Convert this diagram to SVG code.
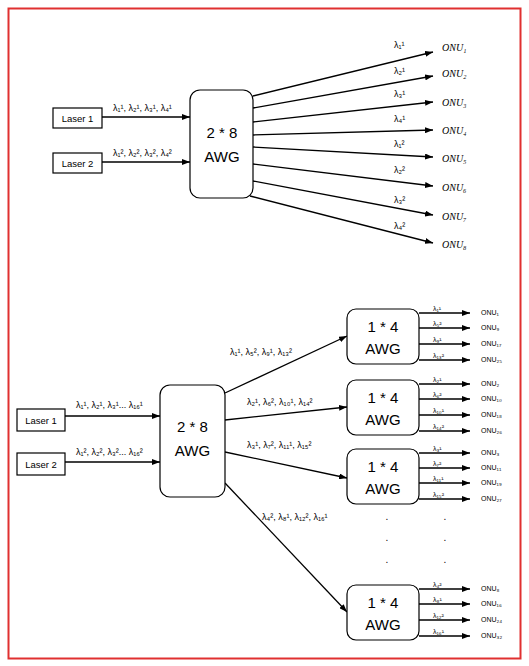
<svg xmlns="http://www.w3.org/2000/svg" width="529" height="666" viewBox="0 0 529 666">
<style>
.box{fill:#fff;stroke:#000;stroke-width:1.2}
.awg{fill:#fff;stroke:#000;stroke-width:1.2}
.ln{fill:none;stroke:#000;stroke-width:1.3}
.lab{font-family:"Liberation Sans","DejaVu Sans",sans-serif;font-size:9px;fill:#000}
.las{font-family:"Liberation Sans","DejaVu Sans",sans-serif;font-size:9.5px;fill:#000;text-anchor:middle}
.big{font-family:"Liberation Sans","DejaVu Sans",sans-serif;font-size:15px;fill:#000;text-anchor:middle}
.onu{font-family:"Liberation Serif","DejaVu Serif",serif;font-style:italic;font-size:10px;fill:#000}
.tiny{font-family:"Liberation Sans","DejaVu Sans",sans-serif;font-size:7px;fill:#000}
.onus{font-family:"Liberation Sans","DejaVu Sans",sans-serif;font-size:7px;fill:#000}
.dot{font-family:"Liberation Sans",sans-serif;font-size:10px;fill:#000;text-anchor:middle}
</style>
<defs>
<marker id="ah" markerUnits="userSpaceOnUse" markerWidth="8" markerHeight="6" refX="8" refY="3" orient="auto"><path d="M0,0 L8,3 L0,6 z" fill="#000"/></marker>
</defs>
<rect width="529" height="666" fill="#fff"/>
<rect x="8.5" y="8.5" width="512" height="650" fill="none" stroke="#e03030" stroke-width="2"/>

<g id="connectors">
<!-- top -->
<line class="ln" x1="102" y1="117" x2="190" y2="117" marker-end="url(#ah)"/>
<line class="ln" x1="102" y1="162" x2="190" y2="162" marker-end="url(#ah)"/>
<line class="ln" x1="253" y1="96" x2="433" y2="52" marker-end="url(#ah)"/>
<line class="ln" x1="253" y1="108" x2="433" y2="76" marker-end="url(#ah)"/>
<line class="ln" x1="253" y1="122" x2="433" y2="102" marker-end="url(#ah)"/>
<line class="ln" x1="253" y1="135" x2="433" y2="130" marker-end="url(#ah)"/>
<line class="ln" x1="253" y1="147" x2="433" y2="157" marker-end="url(#ah)"/>
<line class="ln" x1="253" y1="164" x2="433" y2="186" marker-end="url(#ah)"/>
<line class="ln" x1="253" y1="181" x2="433" y2="215" marker-end="url(#ah)"/>
<line class="ln" x1="250" y1="196" x2="433" y2="243" marker-end="url(#ah)"/>
<!-- bottom -->
<line class="ln" x1="65" y1="416" x2="160" y2="416" marker-end="url(#ah)"/>
<line class="ln" x1="65" y1="462" x2="160" y2="462" marker-end="url(#ah)"/>
<line class="ln" x1="225" y1="393" x2="347" y2="336" marker-end="url(#ah)"/>
<line class="ln" x1="225" y1="420" x2="347" y2="407" marker-end="url(#ah)"/>
<line class="ln" x1="225" y1="452" x2="347" y2="478" marker-end="url(#ah)"/>
<line class="ln" x1="225" y1="483" x2="347" y2="612" marker-end="url(#ah)"/>
<!-- sub AWG outputs -->
<g id="out1">
<line class="ln" x1="419" y1="313" x2="470" y2="313" marker-end="url(#ah)"/>
<line class="ln" x1="419" y1="328" x2="470" y2="328" marker-end="url(#ah)"/>
<line class="ln" x1="419" y1="344" x2="470" y2="344" marker-end="url(#ah)"/>
<line class="ln" x1="419" y1="360" x2="470" y2="360" marker-end="url(#ah)"/>
</g>
<g id="out2">
<line class="ln" x1="419" y1="384" x2="470" y2="384" marker-end="url(#ah)"/>
<line class="ln" x1="419" y1="399" x2="470" y2="399" marker-end="url(#ah)"/>
<line class="ln" x1="419" y1="415" x2="470" y2="415" marker-end="url(#ah)"/>
<line class="ln" x1="419" y1="431" x2="470" y2="431" marker-end="url(#ah)"/>
</g>
<g id="out3">
<line class="ln" x1="419" y1="453" x2="470" y2="453" marker-end="url(#ah)"/>
<line class="ln" x1="419" y1="468" x2="470" y2="468" marker-end="url(#ah)"/>
<line class="ln" x1="419" y1="483" x2="470" y2="483" marker-end="url(#ah)"/>
<line class="ln" x1="419" y1="499" x2="470" y2="499" marker-end="url(#ah)"/>
</g>
<g id="out4">
<line class="ln" x1="419" y1="589" x2="470" y2="589" marker-end="url(#ah)"/>
<line class="ln" x1="419" y1="604" x2="470" y2="604" marker-end="url(#ah)"/>
<line class="ln" x1="419" y1="620" x2="470" y2="620" marker-end="url(#ah)"/>
<line class="ln" x1="419" y1="636" x2="470" y2="636" marker-end="url(#ah)"/>
</g>
</g>

<!-- top nodes -->
<g id="t-laser1"><rect class="box" x="53" y="108" width="49" height="20"/><text class="las" x="77.5" y="121.5">Laser 1</text></g>
<g id="t-laser2"><rect class="box" x="53" y="153" width="49" height="20"/><text class="las" x="77.5" y="166.5">Laser 2</text></g>
<g id="t-awg"><rect class="awg" x="190" y="90" width="63" height="108" rx="10"/><text class="big" x="222" y="138">2 * 8</text><text class="big" x="222" y="162">AWG</text></g>

<g id="top-labels">
<text class="lab" x="113" y="111">λ₁¹, λ₂¹, λ₃¹, λ₄¹</text>
<text class="lab" x="113" y="156">λ₁², λ₂², λ₃², λ₄²</text>
<text class="lab" x="394" y="48">λ₁¹</text>
<text class="lab" x="394" y="74">λ₂¹</text>
<text class="lab" x="394" y="97">λ₃¹</text>
<text class="lab" x="394" y="122">λ₄¹</text>
<text class="lab" x="394" y="147">λ₁²</text>
<text class="lab" x="394" y="173">λ₂²</text>
<text class="lab" x="394" y="203">λ₃²</text>
<text class="lab" x="394" y="229">λ₄²</text>
</g>
<g id="top-onus">
<text class="onu" x="442" y="51">ONU₁</text>
<text class="onu" x="442" y="77">ONU₂</text>
<text class="onu" x="442" y="106">ONU₃</text>
<text class="onu" x="442" y="134">ONU₄</text>
<text class="onu" x="442" y="162">ONU₅</text>
<text class="onu" x="442" y="191">ONU₆</text>
<text class="onu" x="442" y="220">ONU₇</text>
<text class="onu" x="442" y="248">ONU₈</text>
</g>

<!-- bottom nodes -->
<g id="b-laser1"><rect class="box" x="17" y="409" width="48" height="22"/><text class="las" x="41" y="423.5">Laser 1</text></g>
<g id="b-laser2"><rect class="box" x="17" y="453" width="48" height="22"/><text class="las" x="41" y="467.5">Laser 2</text></g>
<g id="b-awg"><rect class="awg" x="160" y="385" width="65" height="112" rx="10"/><text class="big" x="192.5" y="432">2 * 8</text><text class="big" x="192.5" y="456">AWG</text></g>
<g id="s-awg1"><rect class="awg" x="347" y="309" width="72" height="55" rx="9"/><text class="big" x="383" y="332">1 * 4</text><text class="big" x="383" y="354">AWG</text></g>
<g id="s-awg2"><rect class="awg" x="347" y="380" width="72" height="55" rx="9"/><text class="big" x="383" y="403">1 * 4</text><text class="big" x="383" y="425">AWG</text></g>
<g id="s-awg3"><rect class="awg" x="347" y="449" width="72" height="55" rx="9"/><text class="big" x="383" y="472">1 * 4</text><text class="big" x="383" y="494">AWG</text></g>
<g id="s-awg4"><rect class="awg" x="347" y="585" width="72" height="55" rx="9"/><text class="big" x="383" y="608">1 * 4</text><text class="big" x="383" y="630">AWG</text></g>

<g id="bottom-labels">
<text class="lab" x="76" y="408">λ₁¹, λ₂¹, λ₃¹... λ₁₆¹</text>
<text class="lab" x="76" y="455">λ₁², λ₂², λ₃²... λ₁₆²</text>
<text class="lab" x="230" y="355">λ₁¹, λ₅², λ₉¹, λ₁₃²</text>
<text class="lab" x="247" y="405">λ₂¹, λ₆², λ₁₀¹, λ₁₄²</text>
<text class="lab" x="247" y="448">λ₃¹, λ₇², λ₁₁¹, λ₁₅²</text>
<text class="lab" x="262" y="520">λ₄², λ₈¹, λ₁₂², λ₁₆¹</text>
</g>
<g id="sub-labels">
<text class="tiny" x="433" y="311">λ₁¹</text>
<text class="tiny" x="433" y="326">λ₅²</text>
<text class="tiny" x="433" y="342">λ₉¹</text>
<text class="tiny" x="433" y="358">λ₁₃²</text>
<text class="tiny" x="433" y="382">λ₂¹</text>
<text class="tiny" x="433" y="397">λ₆²</text>
<text class="tiny" x="433" y="413">λ₁₀¹</text>
<text class="tiny" x="433" y="429">λ₁₄²</text>
<text class="tiny" x="433" y="451">λ₃¹</text>
<text class="tiny" x="433" y="466">λ₇²</text>
<text class="tiny" x="433" y="481">λ₁₁¹</text>
<text class="tiny" x="433" y="497">λ₁₅²</text>
<text class="tiny" x="433" y="587">λ₄²</text>
<text class="tiny" x="433" y="602">λ₈¹</text>
<text class="tiny" x="433" y="618">λ₁₂²</text>
<text class="tiny" x="433" y="634">λ₁₆¹</text>
</g>
<g id="sub-onus">
<text class="onus" x="481" y="315">ONU₁</text>
<text class="onus" x="481" y="330">ONU₉</text>
<text class="onus" x="481" y="346">ONU₁₇</text>
<text class="onus" x="481" y="362">ONU₂₅</text>
<text class="onus" x="481" y="386">ONU₂</text>
<text class="onus" x="481" y="401">ONU₁₀</text>
<text class="onus" x="481" y="417">ONU₁₈</text>
<text class="onus" x="481" y="433">ONU₂₆</text>
<text class="onus" x="481" y="455">ONU₃</text>
<text class="onus" x="481" y="470">ONU₁₁</text>
<text class="onus" x="481" y="485">ONU₁₉</text>
<text class="onus" x="481" y="501">ONU₂₇</text>
<text class="onus" x="481" y="591">ONU₈</text>
<text class="onus" x="481" y="606">ONU₁₆</text>
<text class="onus" x="481" y="622">ONU₂₄</text>
<text class="onus" x="481" y="638">ONU₃₂</text>
</g>
<g id="dots">
<text class="dot" x="387" y="520">.</text><text class="dot" x="445" y="520">.</text>
<text class="dot" x="387" y="541">.</text><text class="dot" x="445" y="541">.</text>
<text class="dot" x="387" y="563">.</text><text class="dot" x="445" y="563">.</text>
</g>
</svg>
